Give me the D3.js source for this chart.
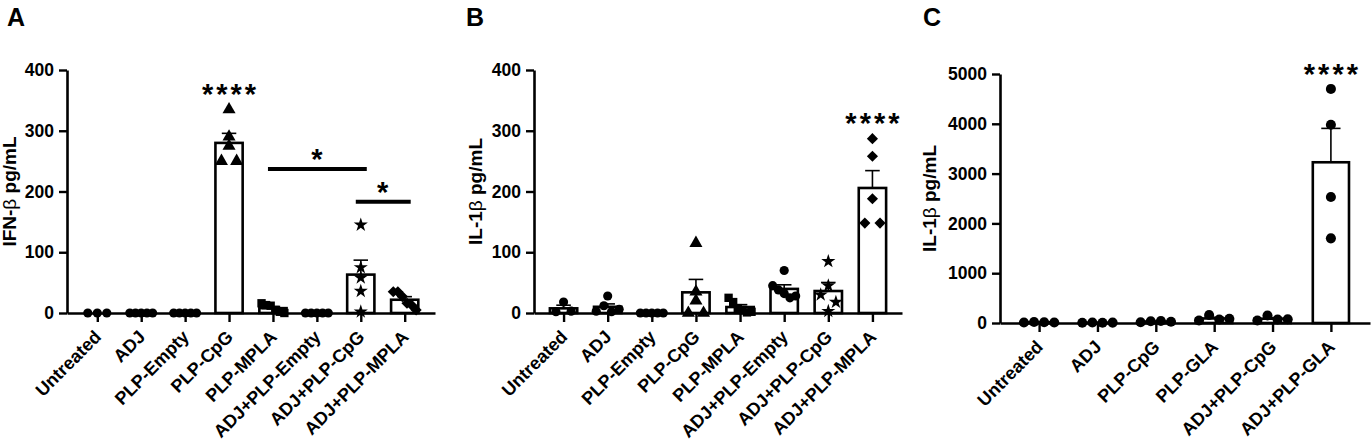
<!DOCTYPE html>
<html>
<head>
<meta charset="utf-8">
<script src="https://cdn.jsdelivr.net/npm/d3@7"></script>
<style>
  body { margin: 0; background: #fff; }
  svg text { font-family: "Liberation Sans", Arial, sans-serif; font-weight: bold; fill: #000; }
</style>
</head>
<body>
<svg id="chart" width="1372" height="444"></svg>
<script>
// ---- data ----
const groupsAB = ["Untreated", "ADJ", "PLP-Empty", "PLP-CpG", "PLP-MPLA", "ADJ+PLP-Empty", "ADJ+PLP-CpG", "ADJ+PLP-MPLA"];
const shapesAB = ["circle", "circle", "circle", "triangle", "square", "circle", "star", "diamond"];
const groupsC = ["Untreated", "ADJ", "PLP-CpG", "PLP-GLA", "ADJ+PLP-CpG", "ADJ+PLP-GLA"];
const shapesC = ["circle", "circle", "circle", "circle", "circle", "circle"];

// IFN-beta pg/mL (panel A)
const ifnbA = [
  [0, 0, 0],
  [0, 0, 0, 0, 0],
  [0, 0, 0, 0, 0],
  [335, 290, 275, 250, 250],
  [16, 13, 12, 5, 2, 0],
  [0, 0, 0, 0, 0],
  [145, 75, 58, 36, 2],
  [35, 35, 27, 16, 13, 5]
];
// IL-1beta pg/mL (panel B)
const il1bB = [
  [2, 18, 3],
  [28, 3, 12, 2, 6],
  [0, 0, 0, 0, 0],
  [115, 35, 20, 0, 0],
  [25, 18, 8, 5, 1, 2],
  [70, 45, 38, 32, 25, 28],
  [85, 45, 30, 18, 3],
  [287, 258, 188, 148, 148]
];
// IL-1beta pg/mL (panel C)
const il1bC = [
  [10, 20, 15, 10],
  [5, 10, 5, 8],
  [15, 35, 40, 25],
  [50, 160, 70, 85],
  [50, 150, 70, 75],
  [4700, 3980, 2530, 1700]
];

const ticksAB = [0, 100, 200, 300, 400];
const ticksC = [0, 1000, 2000, 3000, 4000, 5000];

const starsA = [{ group: "PLP-CpG", y: 370, label: "****" }];
const bracketsA = [
  { from: "PLP-MPLA", to: "ADJ+PLP-CpG", y: 237, label: "*" },
  { from: "ADJ+PLP-CpG", to: "ADJ+PLP-MPLA", y: 183, label: "*" }
];
const starsB = [{ group: "ADJ+PLP-MPLA", y: 323, label: "****" }];
const starsC = [{ group: "ADJ+PLP-GLA", y: 5120, label: "****" }];

// ---- drawing ----
const svg = d3.select("#chart");

function markerPath(shape, big) {
  switch (shape) {
    case "triangle": return d3.symbol(d3.symbolTriangle, 74)();
    case "square": return d3.symbol(d3.symbolSquare, 70)();
    case "diamond": return d3.symbol(d3.symbolSquare, 62)();
    case "star": return d3.symbol(d3.symbolStar, 62)();
    default: return d3.symbol(d3.symbolCircle, big ? 80 : 66)();
  }
}

// spread points that sit on (nearly) the same level side by side
function swarm(values, y, d, maxHalf) {
  const idx = values.map((v, i) => i).sort((a, b) => values[b] - values[a]);
  const offs = new Array(values.length).fill(0);
  const rows = [];
  let row = [idx[0]];
  for (let k = 1; k < idx.length; k++) {
    if (Math.abs(y(values[idx[k]]) - y(values[idx[k - 1]])) < d * 0.8) row.push(idx[k]);
    else { rows.push(row); row = [idx[k]]; }
  }
  rows.push(row);
  rows.forEach(r => {
    let s = r.length === 2 ? d * 1.6 : d;
    if (r.length > 1 && (r.length - 1) / 2 * s > maxHalf) s = 2 * maxHalf / (r.length - 1);
    r.sort((a, b) => a - b).forEach((i, j) => offs[i] = (j - (r.length - 1) / 2) * s);
  });
  return offs;
}

function starText(g, cx, cy, label) {
  const fs = 29;
  g.append("text")
    .attr("x", cx + 1.5)
    .attr("y", cy + fs * 0.56)
    .attr("text-anchor", "middle")
    .style("font-size", fs + "px")
    .style("letter-spacing", "3px")
    .text(label);
}

function drawPanel(cfg) {
  const g = svg.append("g");
  const x = d3.scalePoint().domain(cfg.groups).range([cfg.left, cfg.right]).padding(cfg.pad);
  const y = d3.scaleLinear().domain([0, cfg.max]).range([cfg.bottom, cfg.top]);
  const step = x.step();
  const barW = step * 0.62, capW = step * 0.33;

  // axes
  const yAxis = g.append("g")
    .attr("transform", `translate(${cfg.left},0)`)
    .call(d3.axisLeft(y).tickValues(cfg.ticks).tickFormat(d3.format("d"))
      .tickSize(8).tickSizeOuter(0).tickPadding(5));
  const xAxis = g.append("g")
    .attr("transform", `translate(0,${cfg.bottom})`)
    .call(d3.axisBottom(x).tickSize(9).tickSizeOuter(0).tickFormat(""));
  [yAxis, xAxis].forEach(a => {
    a.select(".domain").attr("stroke", "#000").attr("stroke-width", 2.6);
    a.selectAll(".tick line").attr("stroke", "#000").attr("stroke-width", 2.4);
  });
  yAxis.selectAll(".tick text").style("font-size", "17.5px").attr("fill", "#000");

  // rotated category labels
  g.append("g").selectAll("text")
    .data(cfg.groups)
    .enter().append("text")
    .attr("text-anchor", "end")
    .attr("transform", d => `translate(${x(d) + 5},${cfg.bottom + 25}) rotate(-45)`)
    .style("font-size", "18px")
    .text(d => d);

  // y title
  const t = g.append("text")
    .attr("text-anchor", "middle")
    .attr("transform", `translate(${cfg.titleX},${(cfg.top + cfg.bottom) / 2}) rotate(-90)`)
    .style("font-size", "19px");
  t.append("tspan").text(cfg.titleA);
  t.append("tspan").style("font-weight", "normal").text("β");
  t.append("tspan").text(" pg/mL");

  // panel letter
  g.append("text").attr("x", cfg.letterX).attr("y", 26).style("font-size", "25px").text(cfg.letter);

  // bars + error bars
  cfg.values.forEach((vals, i) => {
    const cx = x(cfg.groups[i]);
    const mean = d3.mean(vals);
    const sem = d3.deviation(vals) / Math.sqrt(vals.length);
    if (mean > 0) {
      g.append("rect")
        .attr("x", cx - barW / 2)
        .attr("y", y(mean))
        .attr("width", barW)
        .attr("height", y(0) - y(mean))
        .attr("fill", "#fff")
        .attr("stroke", "#000")
        .attr("stroke-width", 2.6);
    }
    if (sem > 0) {
      g.append("line")
        .attr("x1", cx).attr("x2", cx)
        .attr("y1", y(mean)).attr("y2", y(mean + sem))
        .attr("stroke", "#000").attr("stroke-width", 1.6);
      g.append("line")
        .attr("x1", cx - capW / 2).attr("x2", cx + capW / 2)
        .attr("y1", y(mean + sem)).attr("y2", y(mean + sem))
        .attr("stroke", "#000").attr("stroke-width", 1.6);
    }
  });

  // individual points
  cfg.values.forEach((vals, i) => {
    const cx = x(cfg.groups[i]);
    const shape = cfg.shapes[i];
    const offs = swarm(vals, y, cfg.big ? 11 : 9.5, step * 0.26);
    g.append("g").selectAll("path")
      .data(vals)
      .enter().append("path")
      .attr("d", markerPath(shape, cfg.big))
      .attr("transform", (v, j) => `translate(${cx + offs[j]},${y(v)})` + (shape === "diamond" ? " rotate(45)" : ""))
      .attr("fill", "#000");
  });

  // significance
  (cfg.stars || []).forEach(s => starText(g, x(s.group), y(s.y), s.label));
  (cfg.brackets || []).forEach(b => {
    g.append("line")
      .attr("x1", x(b.from) - 5).attr("x2", x(b.to) + 6)
      .attr("y1", y(b.y)).attr("y2", y(b.y))
      .attr("stroke", "#000").attr("stroke-width", 4);
    starText(g, (x(b.from) + x(b.to)) / 2, y(b.y) - 16, b.label);
  });
}

drawPanel({
  letter: "A", letterX: 7, groups: groupsAB, shapes: shapesAB, values: ifnbA,
  left: 67, right: 435, pad: 0.69, top: 70, bottom: 313, max: 400, ticks: ticksAB,
  titleX: 16, titleA: "IFN-", stars: starsA, brackets: bracketsA
});
drawPanel({
  letter: "B", letterX: 466, groups: groupsAB, shapes: shapesAB, values: il1bB,
  left: 534, right: 902, pad: 0.67, top: 70, bottom: 313, max: 400, ticks: ticksAB,
  titleX: 482, titleA: "IL-1", stars: starsB
});
drawPanel({
  letter: "C", letterX: 923, groups: groupsC, shapes: shapesC, values: il1bC,
  left: 1000, right: 1370, pad: 0.67, top: 74, bottom: 323, max: 5000, ticks: ticksC,
  titleX: 936, titleA: "IL-1", stars: starsC, big: true
});
</script>
</body>
</html>
